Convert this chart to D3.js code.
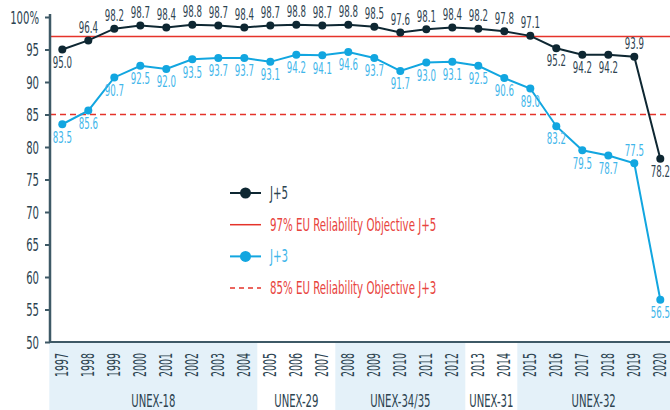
<!DOCTYPE html>
<html>
<head>
<meta charset="utf-8">
<script src="https://cdn.jsdelivr.net/npm/d3@7"></script>
<style>
  html, body { margin: 0; padding: 0; background: #fff; }
  svg { display: block; }
  text { font-family: "DejaVu Sans", sans-serif; font-stretch: condensed; }
</style>
</head>
<body>
<svg id="chart" width="670" height="410"></svg>
<script>
// data
var years = ['1997','1998','1999','2000','2001','2002','2003','2004','2005','2006','2007','2008',
             '2009','2010','2011','2012','2013','2014','2015','2016','2017','2018','2019','2020'];
var j5 = [95.0, 96.4, 98.2, 98.7, 98.4, 98.8, 98.7, 98.4, 98.7, 98.8, 98.7, 98.8,
          98.5, 97.6, 98.1, 98.4, 98.2, 97.8, 97.1, 95.2, 94.2, 94.2, 93.9, 78.2];
var j3 = [83.5, 85.6, 90.7, 92.5, 92.0, 93.5, 93.7, 93.7, 93.1, 94.2, 94.1, 94.6,
          93.7, 91.7, 93.0, 93.1, 92.5, 90.6, 89.0, 83.2, 79.5, 78.7, 77.5, 56.5];
// label below (false) / above (true) the point
var j5Above = years.map(function(y){ return ['1997','2016','2017','2018','2020'].indexOf(y) < 0; });
var j3Above = years.map(function(y){ return y == '2019'; });
var groups = [
    {name: 'UNEX-18', from: '1997', to: '2004', shade: true},
    {name: 'UNEX-29', from: '2005', to: '2007', shade: false},
    {name: 'UNEX-34/35', from: '2008', to: '2012', shade: true},
    {name: 'UNEX-31', from: '2013', to: '2014', shade: false},
    {name: 'UNEX-32', from: '2015', to: '2020', shade: true}
];
var yTicks = [50, 55, 60, 65, 70, 75, 80, 85, 90, 95, 100];
var objJ5 = 97, objJ3 = 85;

var C_J5 = '#0e2732', C_J3 = '#12a6e0', C_RED = '#e5332a', C_REDTXT = '#e8443d',
    C_AXIS = '#3e5966', C_TXT = '#2c4350', C_J3TXT = '#3fb6ea', C_SHADE = '#e4f1f9';

var svg = d3.select('#chart');
var W = 670, H = 410;
var mLeft = 49.3, mTop = 17, mBottom = 342;

var x = d3.scaleBand().domain(years).range([mLeft, mLeft + 26 * years.length]).padding(0);
var y = d3.scaleLinear().domain([50, 100]).range([mBottom, mTop]);
var cx = function(d, i){ return x(years[i]) + x.bandwidth() / 2; };

// squeeze text horizontally (the original uses a condensed face)
function squeeze(sel, k, rot) {
    sel.each(function(){
        var t = d3.select(this),
            tx = +t.attr('x') || 0,
            ty = +t.attr('y') || 0;
        t.attr('x', 0).attr('y', 0)
         .attr('transform', 'translate(' + tx + ',' + ty + ')' + (rot ? ' rotate(-90)' : '') + ' scale(' + k + ',1)');
    });
}

// group shading under the axis
var gGroups = svg.append('g');
groups.forEach(function(g){
    var x0 = x(g.from), x1 = Math.min(W, x(g.to) + x.bandwidth());
    if (g.shade) {
        gGroups.append('rect').attr('x', x0).attr('y', mBottom).attr('width', x1 - x0)
            .attr('height', H - mBottom).attr('fill', C_SHADE);
    }
    gGroups.append('text').attr('x', (x0 + x1) / 2).attr('y', 407)
        .attr('text-anchor', 'middle').attr('font-size', 17).attr('fill', C_TXT)
        .text(g.name);
});
squeeze(gGroups.selectAll('text'), 0.66);

// objective lines
svg.append('line').attr('x1', 50).attr('x2', W).attr('y1', y(objJ5)).attr('y2', y(objJ5))
    .attr('stroke', C_RED).attr('stroke-width', 1.5);
svg.append('line').attr('x1', 50).attr('x2', W).attr('y1', y(objJ3)).attr('y2', y(objJ3))
    .attr('stroke', C_RED).attr('stroke-width', 1.5).attr('stroke-dasharray', '6,4');

// y axis
var yAxis = d3.axisLeft(y).tickValues(yTicks).tickSize(5).tickPadding(0)
    .tickFormat(function(d){ return d == 100 ? '100%' : d; });
var gy = svg.append('g').attr('transform', 'translate(50,0)').call(yAxis).attr('font-family', null);
gy.select('.domain').attr('stroke', C_AXIS).attr('stroke-width', 2.5).attr('d', 'M0,' + (mTop - 3) + 'V' + mBottom);
gy.selectAll('.tick line').attr('stroke', C_AXIS).attr('stroke-width', 2);
gy.selectAll('.tick text').attr('fill', C_TXT).attr('font-size', 17).attr('x', -11).attr('dy', '0.36em');
squeeze(gy.selectAll('.tick text'), 0.66);

// x axis
var xAxis = d3.axisBottom(x).tickSize(0).tickPadding(0);
var gx = svg.append('g').attr('transform', 'translate(0,' + mBottom + ')').call(xAxis).attr('font-family', null);
gx.select('.domain').attr('stroke', C_AXIS).attr('stroke-width', 2).attr('d', 'M' + mLeft + ',0H' + W);
gx.selectAll('.tick text').attr('fill', C_TXT).attr('font-size', 17.5)
    .attr('text-anchor', 'end').attr('x', -0.5).attr('y', 11).attr('dy', '0.35em');
squeeze(gx.selectAll('.tick text'), 0.6, true);

// series
function drawSeries(vals, color, txtColor, above) {
    var line = d3.line().x(cx).y(function(d){ return y(d); });
    svg.append('path').datum(vals).attr('d', line).attr('fill', 'none')
        .attr('stroke', color).attr('stroke-width', 2);
    svg.append('g').selectAll('circle').data(vals).enter().append('circle')
        .attr('cx', cx).attr('cy', function(d){ return y(d); }).attr('r', 4).attr('fill', color);
    var labels = svg.append('g').selectAll('text').data(vals).enter().append('text')
        .attr('x', cx)
        .attr('y', function(d, i){ return y(d) + (above[i] ? -13 : 13); })
        .attr('dy', '0.35em').attr('text-anchor', 'middle')
        .attr('font-size', 15).attr('fill', txtColor)
        .text(function(d){ return d.toFixed(1); });
    squeeze(labels, 0.64);
}
drawSeries(j5, C_J5, C_TXT, j5Above);
drawSeries(j3, C_J3, C_J3TXT, j3Above);

// legend
var legend = [
    {label: 'J+5', color: C_J5, txt: C_TXT, dot: true, dash: null},
    {label: '97% EU Reliability Objective J+5', color: C_RED, txt: C_REDTXT, dot: false, dash: null},
    {label: 'J+3', color: C_J3, txt: C_J3TXT, dot: true, dash: null},
    {label: '85% EU Reliability Objective J+3', color: C_RED, txt: C_REDTXT, dot: false, dash: '5,4'}
];
var gl = svg.append('g');
legend.forEach(function(l, i){
    var ly = 193 + i * 31.7;
    gl.append('line').attr('x1', 230).attr('x2', 261).attr('y1', ly).attr('y2', ly)
        .attr('stroke', l.color).attr('stroke-width', l.dot ? 2 : 1.5)
        .attr('stroke-dasharray', l.dash);
    if (l.dot) gl.append('circle').attr('cx', 245.5).attr('cy', ly).attr('r', 5.5).attr('fill', l.color);
    gl.append('text').attr('x', 270).attr('y', ly).attr('dy', '0.35em')
        .attr('font-size', 17).attr('fill', l.txt).text(l.label);
});
squeeze(gl.selectAll('text'), 0.67);
</script>
</body>
</html>
